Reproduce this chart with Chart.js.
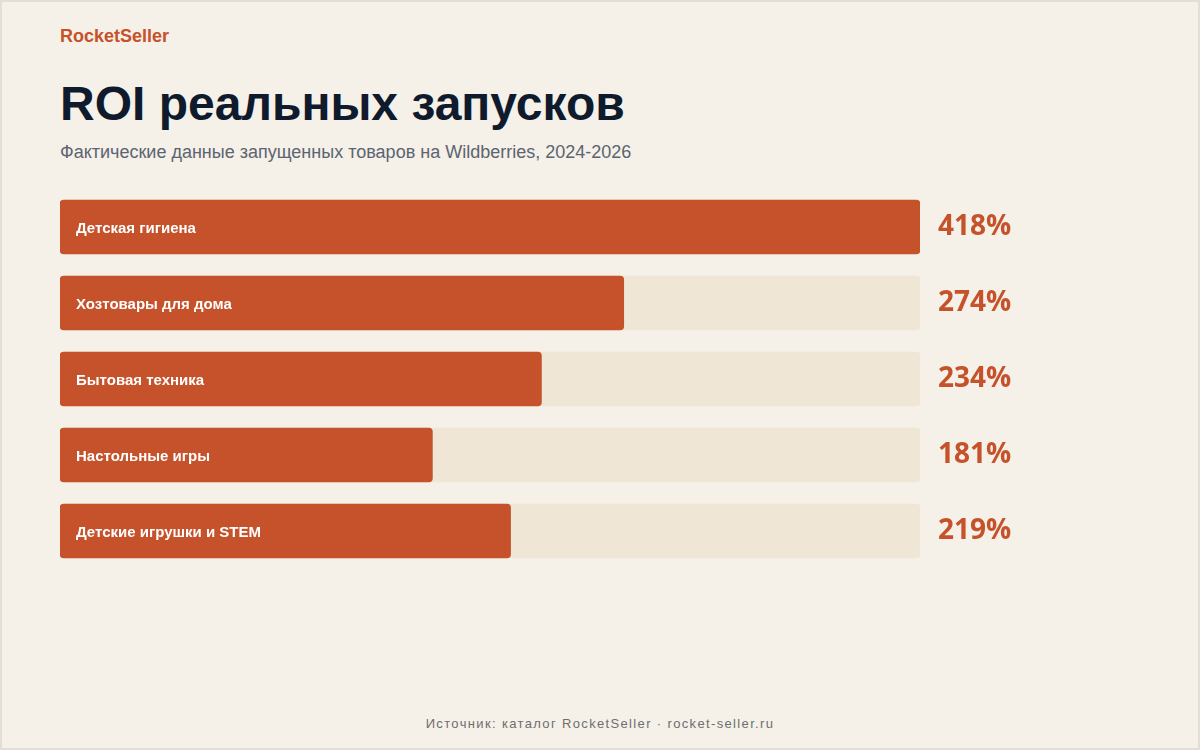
<!DOCTYPE html>
<html lang="ru">
<head>
<meta charset="utf-8">
<script src="https://cdn.jsdelivr.net/npm/chart.js@4.4.1/dist/chart.umd.min.js"></script>
<style>
  html, body { margin: 0; padding: 0; background: #F5F0E8; }
  #page {
    position: relative; width: 1200px; height: 750px; box-sizing: border-box;
    border: 2px solid #E3DED6; background: #F5F0E8; overflow: hidden;
    font-family: "Liberation Sans", Arial, sans-serif;
  }
  #brand { position: absolute; left: 58px; top: 24px; font-size: 18px; font-weight: 700; color: #C5522A; }
  #title { position: absolute; left: 58px; top: 74px; font-size: 48px; font-weight: 700; color: #0F1B2D; margin: 0; }
  #subtitle { position: absolute; left: 58px; top: 140px; font-size: 18px; color: #5B6470; }
  #chartWrap { position: absolute; left: 58px; top: 187px; width: 1000px; height: 380px; }
  #footer { position: absolute; left: 0; right: 0; top: 714px; text-align: center; font-size: 13px; color: #6E6E6E; letter-spacing: 1.35px; }
</style>
</head>
<body>
<div id="page">
  <div id="brand">RocketSeller</div>
  <h1 id="title">ROI реальных запусков</h1>
  <div id="subtitle">Фактические данные запущенных товаров на Wildberries, 2024-2026</div>
  <div id="chartWrap"><canvas id="chart"></canvas></div>
  <div id="footer">Источник: каталог RocketSeller · rocket-seller.ru</div>
</div>
<script>
const categories = ["Детская гигиена", "Хозтовары для дома", "Бытовая техника", "Настольные игры", "Детские игрушки и STEM"];
const roiValues = [418, 274, 234, 181, 219];
const trackValues = [418, 418, 418, 418, 418];
const valueLabels = ["418%", "274%", "234%", "181%", "219%"];

const BAR = "#C5522A";
const TRACK = "#EFE6D5";

const labelPlugin = {
  id: "labelPlugin",
  afterDatasetsDraw(chart) {
    const ctx = chart.ctx;
    const meta = chart.getDatasetMeta(1);
    const xScale = chart.scales.x;
    ctx.save();
    meta.data.forEach((bar, i) => {
      ctx.textBaseline = "middle";
      ctx.textAlign = "left";
      ctx.fillStyle = "#FFFFFF";
      ctx.font = "700 15px 'Liberation Sans', Arial, sans-serif";
      ctx.fillText(categories[i], xScale.getPixelForValue(0) + 16, bar.y + 1.5);
      ctx.fillStyle = BAR;
      ctx.font = "700 28px 'Open Sans', sans-serif";
      ctx.fillText(valueLabels[i], xScale.getPixelForValue(trackValues[i]) + 18, bar.y);
    });
    ctx.restore();
  }
};

new Chart(document.getElementById("chart"), {
  type: "bar",
  data: {
    labels: categories,
    datasets: [
      { data: trackValues, backgroundColor: TRACK, borderRadius: 4, borderSkipped: false, barThickness: 54, grouped: false, order: 2 },
      { data: roiValues, backgroundColor: BAR, borderRadius: 4, borderSkipped: false, barThickness: 54, grouped: false, order: 1 }
    ]
  },
  options: {
    indexAxis: "y",
    responsive: true,
    maintainAspectRatio: false,
    animation: false,
    layout: { padding: { left: 0, right: 140, top: 0, bottom: 0 } },
    plugins: { legend: { display: false }, tooltip: { enabled: false } },
    scales: {
      x: { display: false, min: 0, max: 418 },
      y: { display: false }
    }
  },
  plugins: [labelPlugin]
});
</script>
</body>
</html>
